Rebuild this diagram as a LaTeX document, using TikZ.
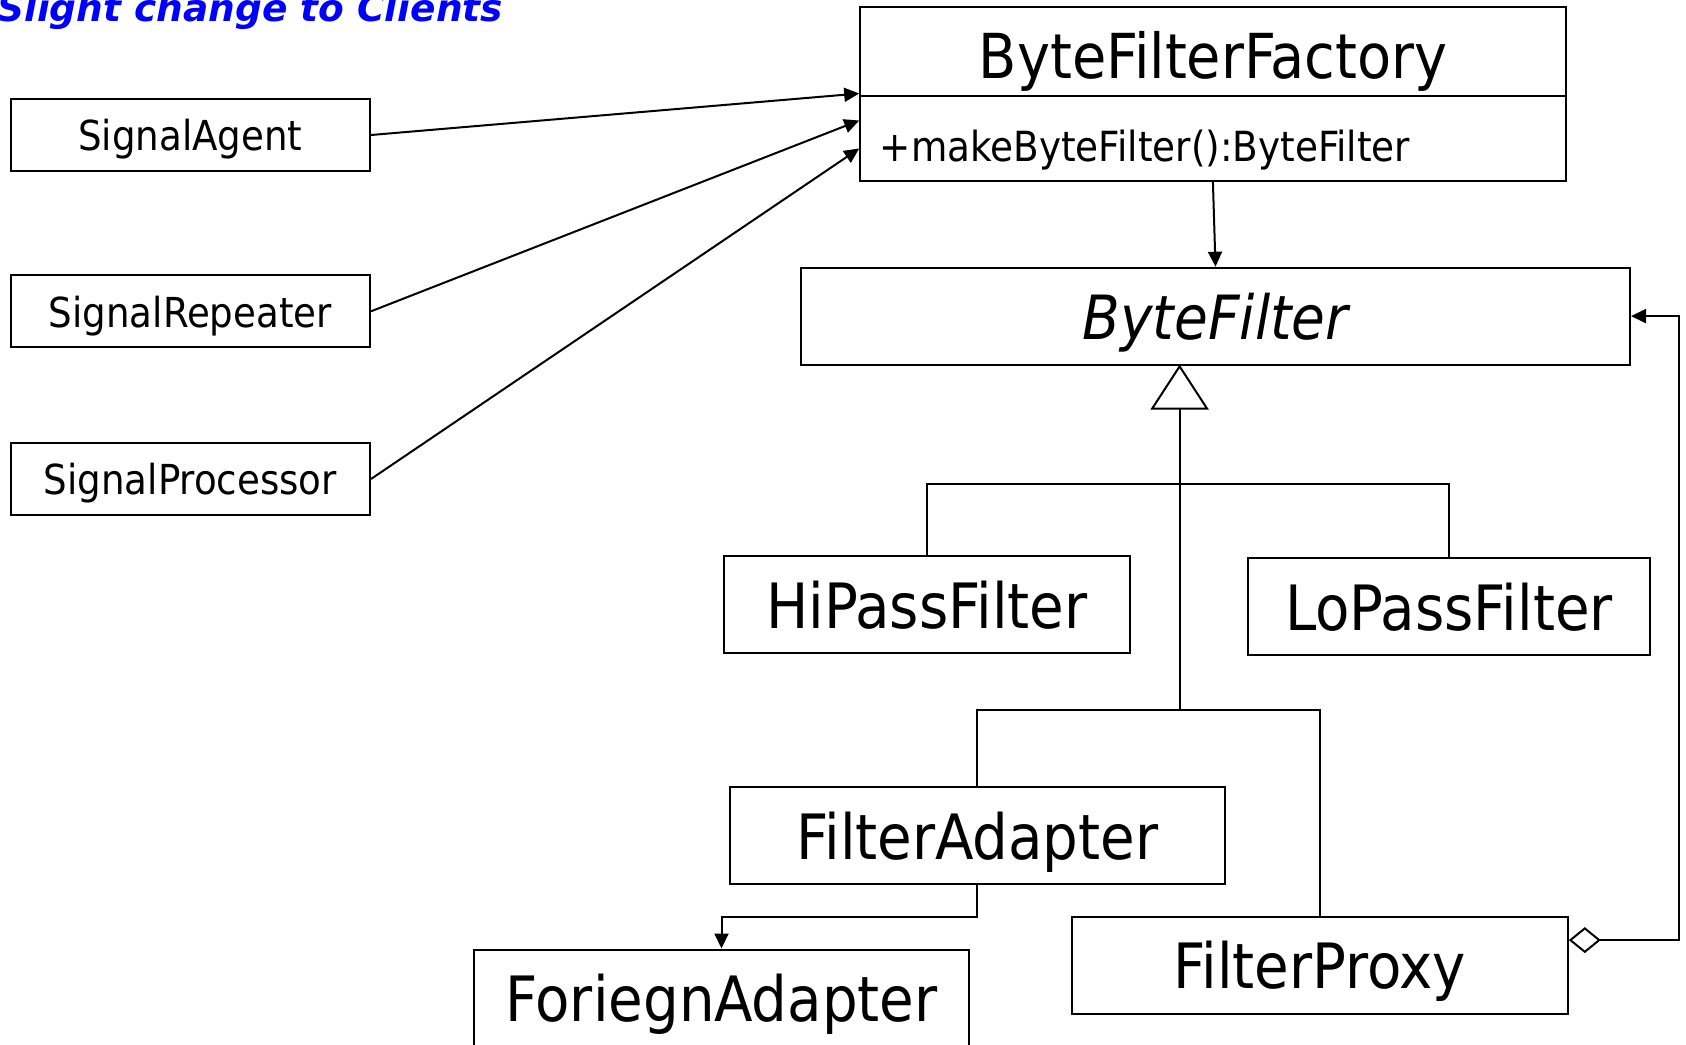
\documentclass[tikz,border=0pt]{standalone}
\usepackage{fontspec}
\setmainfont{DejaVu Sans Condensed}
\newfontfamily\headfont{DejaVu Sans}
\usetikzlibrary{arrows.meta}
\definecolor{headblue}{RGB}{0,0,255}
\begin{document}
\begin{tikzpicture}[x=1pt,y=1pt,
  cls/.style={draw,line width=2pt,inner sep=0pt,minimum height=97pt},
  big/.style={font=\fontsize{62.5}{70}\selectfont,text height=47.5pt,text depth=0pt},
  small/.style={font=\fontsize{41.3}{48}\selectfont,text height=31.4pt,text depth=0pt},
  client/.style={cls,small,minimum width=359.2pt,minimum height=72pt},
  link/.style={line width=2pt},
  uses/.style={link,-{Triangle[length=15pt,width=14pt]}},
  inherits/.style={link,-{Triangle[open,length=45pt,width=58pt]}},
  holds/.style={link,{Diamond[open,length=32pt,width=26pt]}-{Triangle[length=15pt,width=14pt]}}
]
\useasboundingbox (0,0) rectangle (1686,-1044);

% heading
\node[anchor=base west,inner sep=0pt,text=headblue,
      font=\headfont\bfseries\itshape\fontsize{37.5}{44}\selectfont] (head) at (-3,-21)
  {Slight change to Clients};

% clients
\node[client] (sa) at (190.4,-135)   {SignalAgent};
\node[client] (sr) at (190.4,-311.3) {SignalRepeater};
\node[client] (sp) at (190.4,-479)   {SignalProcessor};

% factory class with one operation
\node[cls,minimum width=705.4pt,minimum height=174.2pt] (bff) at (1212.9,-93.6) {};
\draw[line width=1.5pt] ([yshift=-90.3pt]bff.north west) -- ([yshift=-90.3pt]bff.north east);
\node[font=\fontsize{62}{70}\selectfont,text height=47.1pt,text depth=0pt] (bffname) at (1213,-55)
  {ByteFilterFactory};
\node[font=\fontsize{41.5}{48}\selectfont,text height=31.5pt,text depth=0pt,
      anchor=west,inner sep=0pt] (bffop) at (879.6,-146)
  {+makeByteFilter():ByteFilter};

% abstract product and its subclasses
\node[cls,minimum width=829pt,minimum height=96.8pt,
      font=\itshape\fontsize{61}{70}\selectfont,text height=46.4pt,text depth=0pt] (bf)
  at (1215.5,-316.1) {ByteFilter};
\node[cls,big,minimum width=406.3pt] (hp) at (926.9,-604.4) {HiPassFilter};
\node[cls,big,minimum width=401.1pt] (lp) at (1449,-606.5)  {LoPassFilter};
\node[cls,big,minimum width=494.8pt] (fa) at (977.4,-835.5) {FilterAdapter};
\node[cls,big,minimum width=495.8pt] (fp) at (1319.9,-965.1) {FilterProxy};
\node[cls,big,minimum width=494.6pt] (fo) at (721.5,-998)   {ForiegnAdapter};

% junction points of the inheritance tree
\coordinate (tip) at (1179.6,-364.5);
\coordinate (j1)  at (1179.6,-483.9);
\coordinate (j2)  at (1179.6,-709.7);

% clients use the factory
\coordinate (in1) at ([yshift=-88pt]bff.north west);
\coordinate (in2) at ([yshift=-115pt]bff.north west);
\coordinate (in3) at ([yshift=-143pt]bff.north west);
\draw[uses] (sa.east) -- (in1);
\draw[uses] (sr.east) -- (in2);
\draw[uses] (sp.east) -- (in3);

% factory creates filters
\draw[uses] (bff.south) -- (bf.north);

% generalisation
\draw[inherits] (j2) -- (tip);
\draw[link] (hp.north) |- (j1) -| (lp.north);
\draw[link] (fa.north) |- (j2) -| (fp.north);

% adapter delegates to the foreign adapter
\draw[uses] (fa.south) -- ++(0,-32) -| (fo.north);

% proxy aggregates a filter
\coordinate (dm) at ([yshift=25pt]fp.east);
\draw[holds] (dm) -- ++(110,0) |- (bf.east);
\end{tikzpicture}
\end{document}
